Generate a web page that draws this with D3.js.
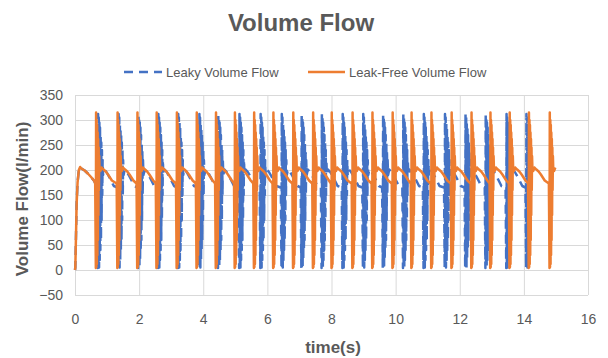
<html>
  <head>
    <title>Volume Flow</title>
    <meta charset="utf-8" />
    <script src="https://cdnjs.cloudflare.com/ajax/libs/d3/7.6.1/d3.min.js"></script>
    <style>
      body {
        margin: 0;
        background: #fff;
      }
      svg {
        width: 608px;
        height: 358px;
        display: block;
      }
      text {
        font-family: "Liberation Sans", Arial, sans-serif;
        fill: #595959;
      }
    </style>
  </head>
  <body>
    <svg></svg>
  </body>

  <script>
    // axis ticks
    const xTicks = [0, 2, 4, 6, 8, 10, 12, 14, 16];
    const yTicks = [-50, 0, 50, 100, 150, 200, 250, 300, 350];

    // start-up ramp, shared by both runs (time s, flow l/min)
    const startTime = [0, 0.01, 0.03, 0.05, 0.08, 0.12, 0.16, 0.2, 0.3, 0.4, 0.5, 0.6];
    const startFlow = [0, 5, 65, 130, 175, 200, 206, 203, 199, 193, 186, 178];

    // times where each pulse starts
    const leakFreeSpikes = [0.65, 1.32, 1.94, 2.54, 3.17, 3.79, 4.39, 4.98, 5.58, 6.18, 6.8, 7.42,
      8.0, 8.65, 9.27, 9.9, 10.49, 11.11, 11.74, 12.36, 12.95, 13.55, 14.15, 14.8];
    const leakySpikes = [0.71, 1.35, 1.97, 2.59, 3.21, 3.87, 4.46, 5.12, 5.78, 6.44, 7.06, 7.69,
      8.34, 8.98, 9.6, 10.23, 10.87, 11.53, 12.17, 12.8, 13.45, 14.07];

    // one pulse, offset from pulse start
    const leakFreeDt = [-0.02, 0, 0.008, 0.016, 0.024, 0.032, 0.04, 0.048, 0.056, 0.064, 0.072, 0.08,
      0.088, 0.096, 0.105, 0.115, 0.14, 0.18, 0.24, 0.31, 0.38, 0.45, 0.5];
    const leakFreeFlow = [173, 4, 315, 6, 300, 12, 290, 30, 275, 60, 262, 110,
      245, 160, 228, 205, 198, 205, 201, 197, 191, 184, 179];
    const leakyDt = [-0.02, 0, 0.01, 0.02, 0.03, 0.04, 0.05, 0.06, 0.07, 0.08, 0.09, 0.1,
      0.11, 0.12, 0.13, 0.14, 0.15, 0.165, 0.2, 0.27, 0.35, 0.43, 0.5];
    const leakyFlow = [165, 4, 312, 8, 305, 5, 295, 20, 285, 40, 270, 60,
      255, 100, 240, 150, 220, 190, 201, 196, 187, 177, 168];

    const leakFreeEnd = 15.0;
    const leakyEnd = 14.17;

    function buildSeries(spikes, shapeDt, shapeFlow, end) {
      const pts = [];
      startTime.forEach((t, i) => {
        if (t < spikes[0] + shapeDt[0]) pts.push({ t: t, v: startFlow[i] });
      });
      spikes.forEach((s, k) => {
        const next = k + 1 < spikes.length ? spikes[k + 1] + shapeDt[0] : end + 1e-6;
        shapeDt.forEach((dt, i) => {
          const t = s + dt;
          if (t < next && t <= end + 1e-6) pts.push({ t: t, v: shapeFlow[i] });
        });
      });
      return pts;
    }

    const leakFree = buildSeries(leakFreeSpikes, leakFreeDt, leakFreeFlow, leakFreeEnd);
    const leaky = buildSeries(leakySpikes, leakyDt, leakyFlow, leakyEnd);

    const blue = "#4472C4",
      orange = "#ED7D31",
      grid = "#d9d9d9";

    const svg = d3.select("svg");
    svg.append("rect").attr("width", 608).attr("height", 358).attr("fill", "#fff");

    const xScale = d3.scaleLinear().domain([0, 16]).range([75, 588]);
    const yScale = d3.scaleLinear().domain([-50, 350]).range([295, 95]);

    // grid lines
    const xGrid = d3.axisBottom(xScale).tickValues(xTicks).tickSize(-200).tickFormat("");
    svg.append("g").attr("transform", "translate(0,295)").call(xGrid)
      .call((g) => g.select(".domain").remove())
      .selectAll("line").attr("stroke", grid);

    const yGrid = d3.axisLeft(yScale).tickValues(yTicks).tickSize(-513).tickFormat("");
    svg.append("g").attr("transform", "translate(75,0)").call(yGrid)
      .call((g) => g.select(".domain").remove())
      .selectAll("line").attr("stroke", grid);

    // tick labels
    const xAxis = d3.axisBottom(xScale).tickValues(xTicks).tickSize(0).tickPadding(0);
    const xAxisG = svg.append("g").attr("transform", "translate(0,314)").call(xAxis);
    xAxisG.select(".domain").remove();
    xAxisG.selectAll("text").attr("font-size", 14).attr("font-family", null).attr("fill", "#595959");

    const yAxis = d3.axisLeft(yScale).tickValues(yTicks).tickSize(0).tickPadding(0);
    const yAxisG = svg.append("g").attr("transform", "translate(63,0)").call(yAxis);
    yAxisG.select(".domain").remove();
    yAxisG.selectAll("text").attr("font-size", 14).attr("font-family", null).attr("fill", "#595959");

    // series
    const flowLine = d3.line().x((d) => xScale(d.t)).y((d) => yScale(d.v));

    svg.append("path")
      .attr("d", flowLine(leaky))
      .attr("fill", "none")
      .attr("stroke", blue)
      .attr("stroke-width", 2.5)
      .attr("stroke-dasharray", "9,6")
      .attr("stroke-linejoin", "round");

    svg.append("path")
      .attr("d", flowLine(leakFree))
      .attr("fill", "none")
      .attr("stroke", orange)
      .attr("stroke-width", 2.5)
      .attr("stroke-linejoin", "round");

    // titles
    svg.append("text")
      .attr("x", 301)
      .attr("y", 31)
      .attr("text-anchor", "middle")
      .attr("font-size", 24)
      .attr("font-weight", "bold")
      .text("Volume Flow");

    svg.append("text")
      .attr("transform", "translate(28,199) rotate(-90)")
      .attr("text-anchor", "middle")
      .attr("font-size", 17)
      .attr("font-weight", "bold")
      .text("Volume Flow(l/min)");

    svg.append("text")
      .attr("x", 333)
      .attr("y", 353)
      .attr("text-anchor", "middle")
      .attr("font-size", 17)
      .attr("font-weight", "bold")
      .text("time(s)");

    // legend
    const legend = svg.append("g");
    legend.append("line")
      .attr("x1", 124).attr("x2", 162).attr("y1", 72).attr("y2", 72)
      .attr("stroke", blue).attr("stroke-width", 2.5).attr("stroke-dasharray", "9,6");
    legend.append("text").attr("x", 166).attr("y", 77).attr("font-size", 13).text("Leaky Volume Flow");
    legend.append("line")
      .attr("x1", 308).attr("x2", 345).attr("y1", 72).attr("y2", 72)
      .attr("stroke", orange).attr("stroke-width", 2.5);
    legend.append("text").attr("x", 349).attr("y", 77).attr("font-size", 13).text("Leak-Free Volume Flow");
  </script>
</html>
